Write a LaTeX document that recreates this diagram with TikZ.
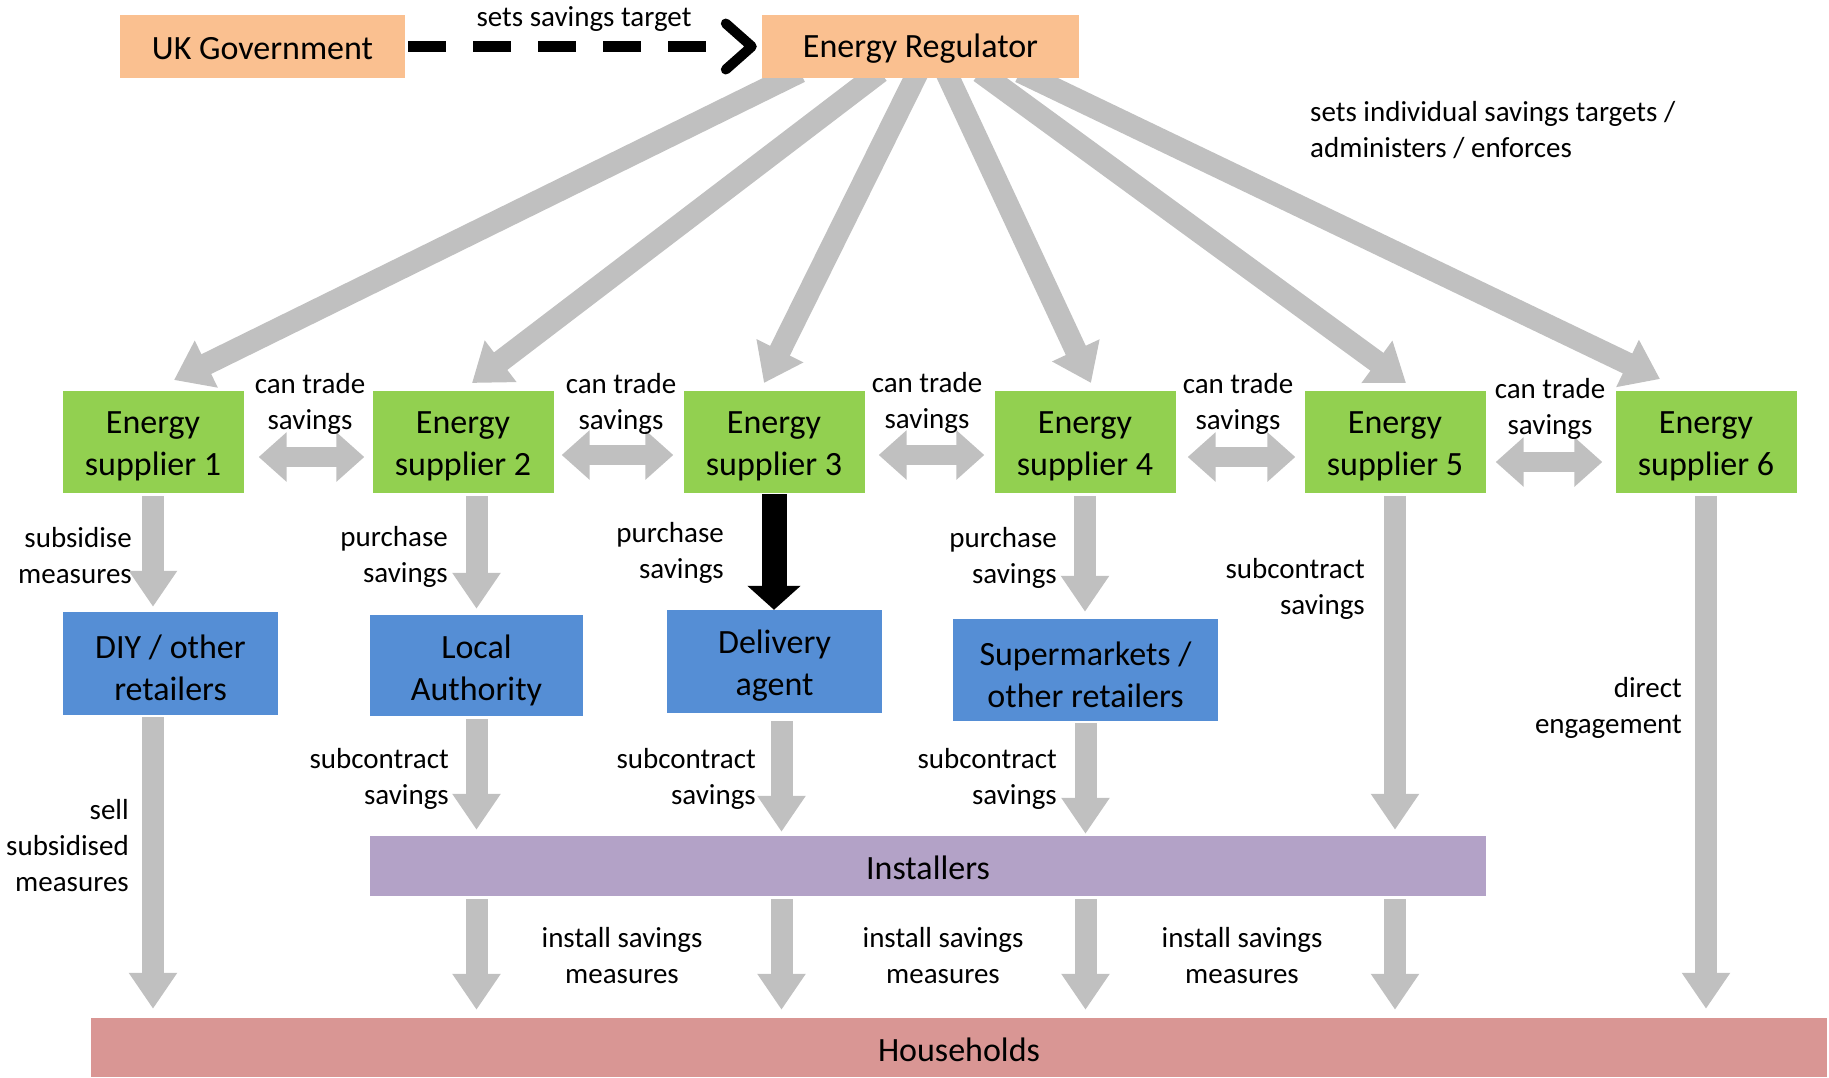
\documentclass[tikz,border=0pt]{standalone}
\usepackage{fontspec}
\setmainfont{Carlito}
\usetikzlibrary{arrows.meta}
\definecolor{orng}{HTML}{FAC090}
\definecolor{grn}{HTML}{92D050}
\definecolor{blu}{HTML}{558ED5}
\definecolor{purp}{HTML}{B3A2C7}
\definecolor{pnk}{HTML}{D99694}
\definecolor{agray}{HTML}{C0C0C0}
\pgfdeclarelayer{bg}
\pgfsetlayers{bg,main}
\tikzset{
  boxbase/.style={inner sep=0pt, align=center, font=\fontsize{34}{42}\selectfont},
  boxlabel/.style={inner sep=0pt, align=center, font=\fontsize{34}{42}\selectfont},
  btext/.style={label={[boxlabel,yshift=-4.5pt]center:{#1}}},
  stext/.style={label={[boxlabel,yshift=-2pt]center:{#1}}},
  orangebox/.style={boxbase, fill=orng},
  greenbox/.style={boxbase, fill=grn, minimum width=181pt, minimum height=102pt},
  bluebox/.style={boxbase, fill=blu},
  lbl/.style={inner sep=0pt, font=\fontsize{29}{36}\selectfont},
  rlbl/.style={lbl, align=right, anchor=east},
  clbl/.style={lbl, align=center},
  garrow/.style={draw=agray, line width=22pt, -{Triangle[length=36pt,width=46pt]}},
  darrow/.style={draw=agray, line width=22pt, -{Triangle[length=36pt,width=50pt]}},
  dblarrow/.style={draw=agray, line width=20pt, {Triangle[length=28pt,width=48pt]}-{Triangle[length=28pt,width=48pt]}},
  blkarrow/.style={draw=black, line width=25pt, -{Triangle[length=24pt,width=52pt]}},
  dasharrow/.style={draw=black, line width=10.5pt,
    dash pattern=on 38pt off 27pt on 38pt off 27pt on 38pt off 27pt on 38pt off 27pt on 38pt off 200pt,
    -{Straight Barb[length=26pt,width=46pt,line width=10pt,round]}}
}
\begin{document}
\begin{tikzpicture}[x=1pt,y=-1pt]
\useasboundingbox (0,0) rectangle (1829,1077);
% top
\node[orangebox, minimum width=285pt, minimum height=63pt, stext={UK Government}] (uk) at (262.5,46.5) {};
\node[orangebox, minimum width=317pt, minimum height=63pt, stext={Energy Regulator}] (reg) at (920.5,46.5) {};
% suppliers
\node[greenbox, btext={Energy\\supplier 1}] (s1) at (153,442) {};
\node[greenbox, btext={Energy\\supplier 2}] (s2) at (463,442) {};
\node[greenbox, btext={Energy\\supplier 3}] (s3) at (774,442) {};
\node[greenbox, btext={Energy\\supplier 4}] (s4) at (1085,442) {};
\node[greenbox, btext={Energy\\supplier 5}] (s5) at (1395,442) {};
\node[greenbox, btext={Energy\\supplier 6}] (s6) at (1706,442) {};
% intermediaries
\node[bluebox, minimum width=215pt, minimum height=103pt, btext={DIY / other\\retailers}] (diy) at (170.5,663.5) {};
\node[bluebox, minimum width=213pt, minimum height=101pt, btext={Local\\Authority}] (la) at (476.5,665.5) {};
\node[bluebox, minimum width=215pt, minimum height=103pt, btext={Delivery\\agent}] (da) at (774.5,661.5) {};
\node[bluebox, minimum width=265pt, minimum height=102pt, btext={Supermarkets /\\other retailers}] (sm) at (1085.5,670) {};
\node[boxbase, fill=purp, minimum width=1116pt, minimum height=60pt, stext={Installers}] (inst) at (928,866) {};
\node[boxbase, fill=pnk, minimum width=1736pt, minimum height=59pt, stext={Households}] (hh) at (959,1047.5) {};

% regulator arrow anchors (under the regulator box)
\coordinate (r1) at (800,72);
\coordinate (r2) at (880,72);
\coordinate (r3) at (918,72);
\coordinate (r4) at (946,72);
\coordinate (r5) at (980,72);
\coordinate (r6) at (1020,72);
\coordinate (t1) at (174,380);
\coordinate (t2) at (472,383);
\coordinate (t3) at (764,383);
\coordinate (t4) at (1091,383);
\coordinate (t5) at (1406,383);
\coordinate (t6) at (1660,379);

\begin{pgfonlayer}{bg}
\draw[darrow] (r1) -- (t1);
\draw[darrow] (r2) -- (t2);
\draw[darrow] (r3) -- (t3);
\draw[darrow] (r4) -- (t4);
\draw[darrow] (r5) -- (t5);
\draw[darrow] (r6) -- (t6);
\end{pgfonlayer}

% dashed arrow
\draw[dasharrow] ([xshift=3pt]uk.east) -- ([xshift=-5pt]reg.west);
\node[clbl] (lset) at (584,19) {sets savings target};
\node[lbl, align=left, anchor=west] (lind) at (1310,130) {sets individual savings targets /\\administers / enforces};

% trade arrows
\draw[dblarrow] ([xshift=15pt,yshift=-15pt]s1.east) -- ([xshift=-8pt,yshift=-15pt]s2.west);
\draw[dblarrow] ([xshift=8pt,yshift=-13pt]s2.east) -- ([xshift=-10pt,yshift=-13pt]s3.west);
\draw[dblarrow] ([xshift=14pt,yshift=-13pt]s3.east) -- ([xshift=-10pt,yshift=-13pt]s4.west);
\draw[dblarrow] ([xshift=12pt,yshift=-15pt]s4.east) -- ([xshift=-9pt,yshift=-15pt]s5.west);
\draw[dblarrow] ([xshift=10pt,yshift=-20pt]s5.east) -- ([xshift=-13pt,yshift=-20pt]s6.west);
\node[clbl] (ct1) at (310,404) {can trade\\savings};
\node[clbl] (ct2) at (621,404) {can trade\\savings};
\node[clbl] (ct3) at (927,403) {can trade\\savings};
\node[clbl] (ct4) at (1238,404) {can trade\\savings};
\node[clbl] (ct5) at (1550,409) {can trade\\savings};

% supplier -> intermediaries
\draw[garrow, shorten <=3pt, shorten >=5pt] (s1.south) -- (s1.south |- diy.north);
\draw[garrow, shorten <=3pt, shorten >=6pt] (la.north |- s2.south) -- (la.north);
\draw[blkarrow, shorten <=1pt] (s3.south) -- (s3.south |- da.north);
\draw[garrow, shorten <=3pt, shorten >=7pt] (s4.south) -- (s4.south |- sm.north);
\draw[garrow, shorten <=3pt, shorten >=6pt] (s5.south) -- (s5.south |- inst.north);
\draw[garrow, shorten <=3pt, shorten >=9pt] (s6.south) -- (s6.south |- hh.north);
% intermediaries -> installers / households
\draw[garrow, shorten <=2pt, shorten >=9pt] (s1.south |- diy.south) -- (s1.south |- hh.north);
\draw[garrow, shorten <=3pt, shorten >=6pt] (la.south) -- (la.south |- inst.north);
\draw[garrow, shorten <=8pt, shorten >=4pt] ([xshift=7pt]da.south) -- ([xshift=7pt]da.south |- inst.north);
\draw[garrow, shorten <=2pt, shorten >=2pt] (sm.south) -- (sm.south |- inst.north);
% installers -> households
\draw[garrow, shorten <=3pt, shorten >=8pt] (la.south |- inst.south) -- (la.south |- hh.north);
\draw[garrow, shorten <=3pt, shorten >=8pt] ([xshift=7pt]da.south |- inst.south) -- ([xshift=7pt]da.south |- hh.north);
\draw[garrow, shorten <=3pt, shorten >=8pt] (sm.south |- inst.south) -- (sm.south |- hh.north);
\draw[garrow, shorten <=3pt, shorten >=8pt] (s5.south |- inst.south) -- (s5.south |- hh.north);

% labels
\node[rlbl] (l1) at (132,556) {subsidise\\measures};
\node[rlbl] (l2) at (448,557) {purchase\\savings};
\node[rlbl] (l3) at (724,553) {purchase\\savings};
\node[rlbl] (l4) at (1057,558) {purchase\\savings};
\node[rlbl] (l5) at (1365,589) {subcontract\\savings};
\node[rlbl] (l6) at (1682,708) {direct\\engagement};
\node[rlbl] (l7) at (129,846) {sell\\subsidised\\measures};
\node[rlbl] (l8) at (449,779) {subcontract\\savings};
\node[rlbl] (l9) at (756,779) {subcontract\\savings};
\node[rlbl] (l10) at (1057,779) {subcontract\\savings};
\node[clbl] (l11) at (622,956) {install savings\\measures};
\node[clbl] (l12) at (943,956) {install savings\\measures};
\node[clbl] (l13) at (1242,956) {install savings\\measures};
\end{tikzpicture}
\end{document}
